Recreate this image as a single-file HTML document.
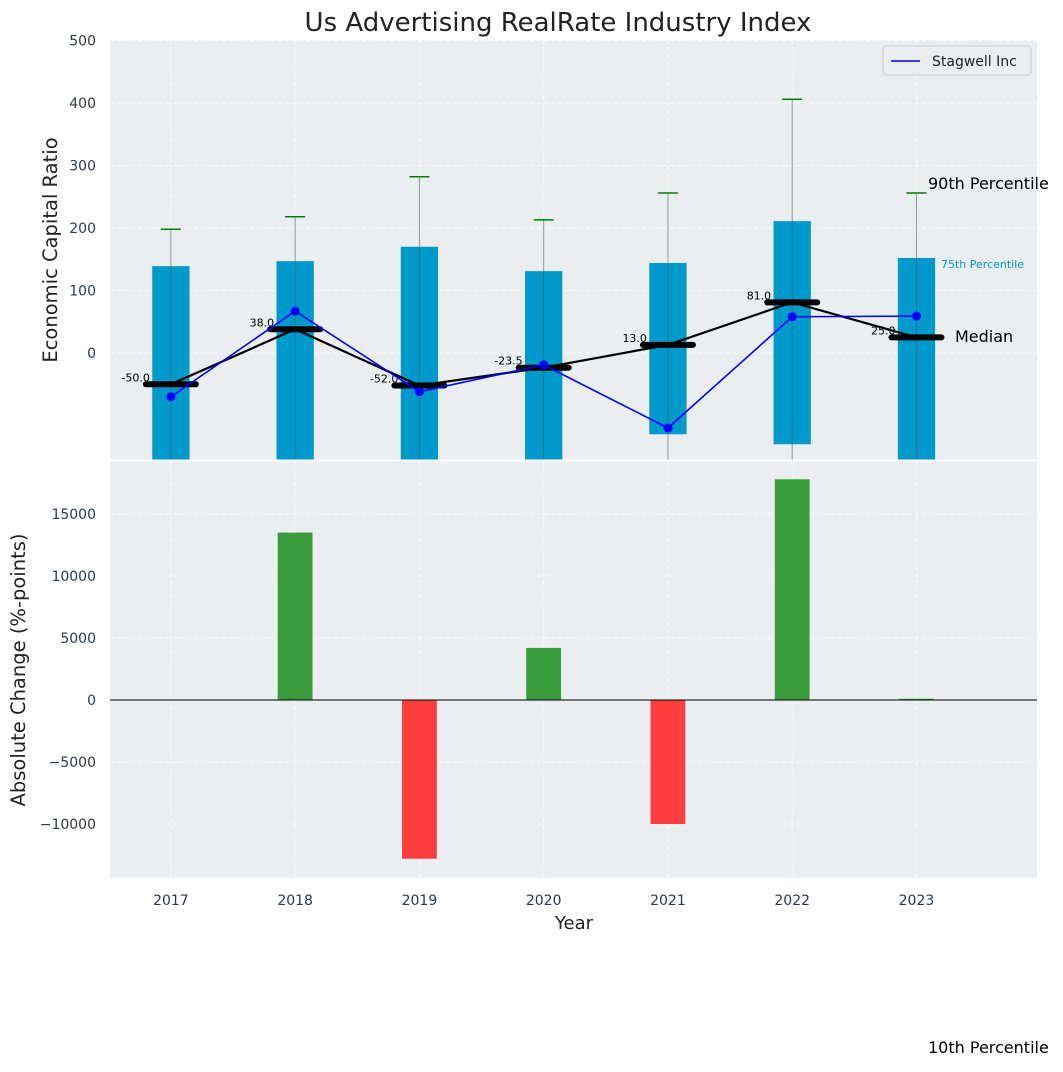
<!DOCTYPE html>
<html><head><meta charset="utf-8"><style>
body{margin:0;background:#fff;font-family:"Liberation Sans","DejaVu Sans",sans-serif}
svg text{font-family:"DejaVu Sans","Liberation Sans",sans-serif}
</style></head><body>
<svg id="c" width="1063" height="1067" xmlns="http://www.w3.org/2000/svg"></svg>
<script>
const years=[2017,2018,2019,2020,2021,2022,2023];
const p75=[139,147,170,131,144,211,152];
const p25=[-250,-250,-250,-250,-130,-146,-250];
const p90=[198,218,282,213,256,406,256];
const p10=[-300,-300,-300,-300,-300,-300,-300];
const medians=[-50,38,-52,-23.5,13,81,25];
const medianLabels=["-50.0","38.0","-52.0","-23.5","13.0","81.0","25.0"];
const stagwell=[-70,67,-62,-19,-120,58,59];
const changes=[0,13500,-12800,4200,-10000,17800,100];
const topTicks=[0,100,200,300,400,500];
const botTicks=[-10000,-5000,0,5000,10000,15000];

const svg=document.getElementById('c');const NS='http://www.w3.org/2000/svg';
function el(t,a,txt){const e=document.createElementNS(NS,t);for(const k in a)e.setAttribute(k,a[k]);if(txt!==undefined)e.textContent=txt;svg.appendChild(e);return e;}
const L=110,R=1037,T1=40,B1=460,T2=461,B2=878;
const x=v=>L+(v-2016.51)/(2023.97-2016.51)*(R-L);
const y1=v=>353-v*0.625;
const y2=v=>700-v*0.0124;
function cl(v,a,b){return Math.max(a,Math.min(b,v));}
let e;
e=el('rect',{x:L,y:T1,width:R-L,height:B1-T1,fill:'#eaeef0'});
e=el('rect',{x:L,y:T2,width:R-L,height:B2-T2,fill:'#eaeef0'});
years.forEach(yr=>{el('line',{x1:x(yr),x2:x(yr),y1:T1,y2:B1,stroke:'#fff','stroke-dasharray':'4,3','stroke-width':1,opacity:0.8});el('line',{x1:x(yr),x2:x(yr),y1:T2,y2:B2,stroke:'#fff','stroke-dasharray':'4,3','stroke-width':1,opacity:0.8});
 e=el('text',{x:x(yr),y:905,'font-size':14,fill:'#2b3a4a','text-anchor':'middle'},yr);});
topTicks.forEach(t=>{el('line',{x1:L,x2:R,y1:y1(t),y2:y1(t),stroke:'#fff','stroke-dasharray':'4,3',opacity:0.8});
 e=el('text',{x:96,y:y1(t)+5,'font-size':14,fill:'#2b3a4a','text-anchor':'end'},t);});
botTicks.forEach(t=>{el('line',{x1:L,x2:R,y1:y2(t),y2:y2(t),stroke:'#fff','stroke-dasharray':'4,3',opacity:0.8});
 e=el('text',{x:96,y:y2(t)+5,'font-size':14,fill:'#2b3a4a','text-anchor':'end'},t<0?'\u2212'+(-t):t);});
const bw=x(2017.15)-x(2017);
years.forEach((yr,i)=>{
 const ya=y1(p75[i]),yb=cl(y1(p25[i]),T1,B1);
 e=el('rect',{x:x(yr)-bw,y:ya,width:2*bw,height:yb-ya,fill:'#0099cc'});
 e=el('line',{x1:x(yr),x2:x(yr),y1:y1(p90[i]),y2:cl(y1(p10[i]),T1,B1),stroke:'#555',opacity:0.6,'stroke-width':1});
 e=el('line',{x1:x(yr)-10,x2:x(yr)+10,y1:y1(p90[i]),y2:y1(p90[i]),stroke:'#008000','stroke-width':1.5});
});
e=el('polyline',{points:years.map((yr,i)=>x(yr)+','+y1(medians[i])).join(' '),fill:'none',stroke:'#000','stroke-width':2.2});
years.forEach((yr,i)=>{
 e=el('line',{x1:x(yr)-25,x2:x(yr)+25,y1:y1(medians[i]),y2:y1(medians[i]),stroke:'#000','stroke-width':6,'stroke-linecap':'round'});
 e=el('text',{x:x(yr)-21,y:y1(medians[i])-3,'font-size':11,fill:'#000','text-anchor':'end'},medianLabels[i]);
});
e=el('polyline',{points:years.map((yr,i)=>x(yr)+','+y1(stagwell[i])).join(' '),fill:'none',stroke:'#0000ff','stroke-width':1.6});
years.forEach((yr,i)=>{e=el('circle',{cx:x(yr),cy:y1(stagwell[i]),r:4.5,fill:'#0000ff'});});
const bw2=x(2017.14)-x(2017);
years.forEach((yr,i)=>{const v=changes[i];const ya=y2(Math.max(v,0)),yb=y2(Math.min(v,0));
 e=el('rect',{x:x(yr)-bw2,y:ya,width:2*bw2,height:Math.max(yb-ya,0.5),fill:v>=0?'#3a9b3c':'#fc3d3d'});});
e=el('line',{x1:L,x2:R,y1:y2(0),y2:y2(0),stroke:'#000','stroke-width':1});
el('line',{x1:L,x2:R,y1:460.5,y2:460.5,stroke:'#fff','stroke-width':2});
e=el('text',{x:558,y:31,'font-size':26,fill:'#222','text-anchor':'middle'},'Us Advertising RealRate Industry Index');
e=el('text',{x:57,y:250,'font-size':19.5,fill:'#222','text-anchor':'middle',transform:'rotate(-90 57 250)'},'Economic Capital Ratio');
e=el('text',{x:25,y:670,'font-size':19.5,fill:'#222','text-anchor':'middle',transform:'rotate(-90 25 670)'},'Absolute Change (%-points)');
e=el('text',{x:574,y:929,'font-size':18,fill:'#222','text-anchor':'middle'},'Year');
e=el('text',{x:928,y:189,'font-size':16,fill:'#000'},'90th Percentile');
e=el('text',{x:941,y:268,'font-size':11,fill:'#0099cc'},'75th Percentile');
e=el('text',{x:955,y:342,'font-size':16,fill:'#000'},'Median');
e=el('text',{x:928,y:1053,'font-size':16,fill:'#000'},'10th Percentile');
e=el('rect',{x:883,y:46,width:148,height:29,rx:3,fill:'#eaeef0',stroke:'#ccc'});
el('line',{x1:891,x2:920,y1:61,y2:61,stroke:'#0000ff','stroke-width':1.6});
e=el('text',{x:932,y:66,'font-size':14,fill:'#222'},'Stagwell Inc');
</script>
</body></html>
